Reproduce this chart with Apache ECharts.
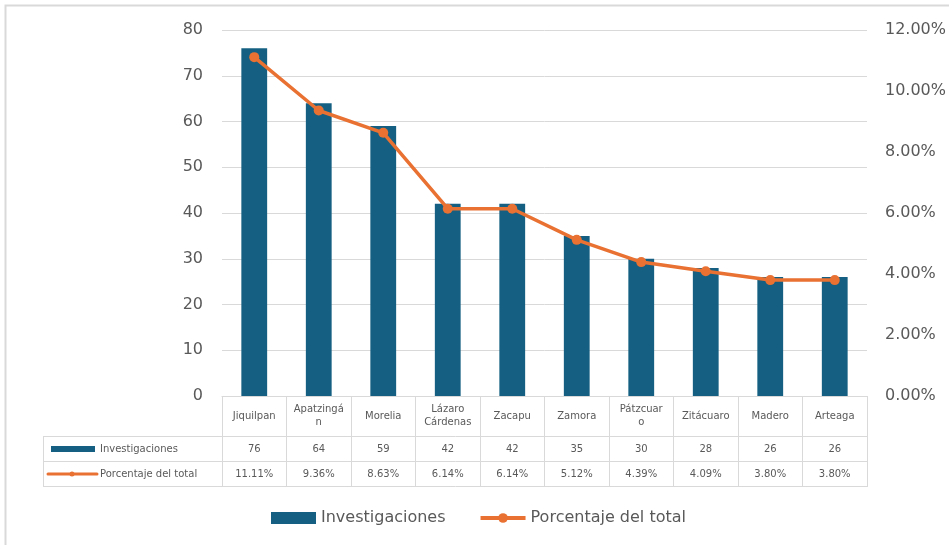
<!DOCTYPE html>
<html>
<head>
<meta charset="utf-8">
<script src="https://cdn.jsdelivr.net/npm/echarts@6/dist/echarts.min.js"></script>
<style>
  html, body { margin: 0; padding: 0; background: #fff; }
  #chart { width: 949px; height: 545px; }
</style>
</head>
<body>
<div id="chart"></div>
<script>
// Investigaciones por municipio y su porcentaje del total
const categories = ['Jiquilpan', 'Apatzingán', 'Morelia', 'Lázaro Cárdenas', 'Zacapu', 'Zamora', 'Pátzcuaro', 'Zitácuaro', 'Madero', 'Arteaga'];
const headerLabels = ['Jiquilpan', 'Apatzingá\nn', 'Morelia', 'Lázaro\nCárdenas', 'Zacapu', 'Zamora', 'Pátzcuar\no', 'Zitácuaro', 'Madero', 'Arteaga'];
const investigaciones = [76, 64, 59, 42, 42, 35, 30, 28, 26, 26];
const porcentaje = [11.11, 9.36, 8.63, 6.14, 6.14, 5.12, 4.39, 4.09, 3.80, 3.80];
const seriesNames = ['Investigaciones', 'Porcentaje del total'];

const BLUE = '#156082';
const ORANGE = '#E97132';
const GRID_LINE = '#d9d9d9';
const TEXT = '#595959';
const FONT = 'DejaVu Sans';

const chart = echarts.init(document.getElementById('chart'), null, { renderer: 'canvas' });

const grid = { left: 222, right: 81, top: 30, bottom: 149 };

chart.setOption({
  animation: false,
  backgroundColor: '#fff',
  textStyle: { fontFamily: FONT },
  grid: Object.assign({ containLabel: false }, grid),
  legend: {
    data: [
      { name: seriesNames[0], icon: 'rect' },
      { name: seriesNames[1] }
    ],
    left: 266,
    top: 505,
    itemWidth: 45,
    itemHeight: 12,
    itemGap: 33,
    lineStyle: { width: 4 },
    textStyle: { fontSize: 16, color: TEXT, fontFamily: FONT }
  },
  xAxis: {
    type: 'category',
    data: categories,
    boundaryGap: true,
    axisLine: { show: true, lineStyle: { color: GRID_LINE, width: 1 } },
    axisTick: { show: true, alignWithLabel: false, length: 90, lineStyle: { color: GRID_LINE, width: 1 } },
    axisLabel: {
      interval: 0,
      margin: 20,
      verticalAlign: 'middle',
      fontSize: 10,
      lineHeight: 13,
      color: TEXT,
      fontFamily: FONT,
      formatter: (v, i) => headerLabels[i]
    }
  },
  yAxis: [
    {
      type: 'value',
      min: 0,
      max: 80,
      interval: 10,
      axisLine: { show: false },
      axisTick: { show: false },
      axisLabel: { fontSize: 16, color: TEXT, margin: 19, fontFamily: FONT },
      splitLine: { show: true, lineStyle: { color: GRID_LINE, width: 1 } }
    },
    {
      type: 'value',
      min: 0,
      max: 12,
      interval: 2,
      position: 'right',
      axisLine: { show: false },
      axisTick: { show: false },
      axisLabel: {
        fontSize: 16, color: TEXT, margin: 18, fontFamily: FONT,
        formatter: v => v.toFixed(2) + '%'
      },
      splitLine: { show: false }
    }
  ],
  series: [
    {
      name: seriesNames[0],
      type: 'bar',
      data: investigaciones,
      barWidth: '40%',
      itemStyle: { color: BLUE },
      z: 2
    },
    {
      name: seriesNames[1],
      type: 'line',
      yAxisIndex: 1,
      data: porcentaje,
      symbol: 'circle',
      symbolSize: 10,
      lineStyle: { color: ORANGE, width: 3.5 },
      itemStyle: { color: ORANGE },
      z: 3
    }
  ]
});

// Data table under the category axis: value rows, row borders and series keys
function buildTable() {
  const W = 949, H = 545;
  const plotLeft = grid.left;
  const plotRight = W - grid.right;
  const axisY = H - grid.bottom;
  const headerBottom = axisY + 40;
  const rowH = 25;
  const tableLeft = 43;
  const els = [];
  const line = (x1, y1, x2, y2) => ({
    type: 'line', silent: true, z: 10,
    shape: { x1, y1, x2, y2 },
    style: { stroke: GRID_LINE, lineWidth: 1 }
  });
  const cell = (x, y, text, align) => ({
    type: 'text', silent: true, z: 10,
    x, y,
    style: {
      text, fill: TEXT, font: '10px "' + FONT + '"',
      align: align || 'center', verticalAlign: 'middle'
    }
  });

  // Horizontal rules
  [headerBottom, headerBottom + rowH, headerBottom + 2 * rowH].forEach(y => {
    els.push(line(tableLeft, y + 0.5, plotRight, y + 0.5));
  });
  // Left border of the row-title column
  els.push(line(tableLeft + 0.5, headerBottom, tableLeft + 0.5, headerBottom + 2 * rowH));

  const rows = [
    investigaciones.map(String),
    porcentaje.map(v => v.toFixed(2) + '%')
  ];
  rows.forEach((vals, r) => {
    const cy = headerBottom + rowH * r + rowH / 2 + 0.5;
    vals.forEach((t, i) => {
      const cx = chart.convertToPixel({ xAxisIndex: 0 }, categories[i]);
      els.push(cell(cx, cy, t));
    });
    els.push(cell(tableLeft + 57, cy, seriesNames[r], 'left'));
  });

  // Series keys in the row-title column
  const y1 = headerBottom + rowH / 2 + 0.5;
  els.push({
    type: 'rect', silent: true, z: 10,
    shape: { x: tableLeft + 8, y: y1 - 3, width: 44, height: 6 },
    style: { fill: BLUE }
  });
  const y2 = headerBottom + rowH * 1.5 + 0.5;
  els.push({
    type: 'line', silent: true, z: 10,
    shape: { x1: tableLeft + 5, y1: y2, x2: tableLeft + 54, y2: y2 },
    style: { stroke: ORANGE, lineWidth: 3, lineCap: 'round' }
  });
  els.push({
    type: 'circle', silent: true, z: 11,
    shape: { cx: tableLeft + 29, cy: y2, r: 2.5 },
    style: { fill: ORANGE }
  });

  // Chart frame
  els.push({
    type: 'rect', silent: true, z: 0,
    shape: { x: 5.5, y: 5.5, width: W + 10, height: H + 10 },
    style: { fill: null, stroke: GRID_LINE, lineWidth: 2 }
  });

  chart.setOption({ graphic: els });
}
buildTable();
</script>
</body>
</html>
